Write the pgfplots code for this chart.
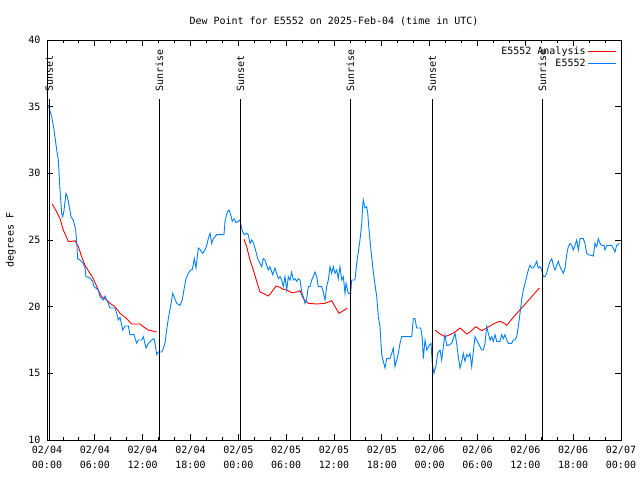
\documentclass[border=0pt]{standalone}
\usepackage{pgfplots}
\pgfplotsset{compat=1.18}
\usepackage{fontspec}
\setmainfont{DejaVu Sans Mono}
\definecolor{obsblue}{RGB}{0,128,255}
\definecolor{anared}{RGB}{255,0,0}

\begin{document}
\begin{tikzpicture}
\begin{axis}[
    width=574pt, height=400pt, scale only axis,
    xmin=0, xmax=72, ymin=10, ymax=40,
    xtick={0,6,...,72}, minor x tick num=2,
    ytick={10,15,...,40},
    xticklabels={{02/04\\[3pt]00:00},{02/04\\[3pt]06:00},{02/04\\[3pt]12:00},{02/04\\[3pt]18:00},
                 {02/05\\[3pt]00:00},{02/05\\[3pt]06:00},{02/05\\[3pt]12:00},{02/05\\[3pt]18:00},
                 {02/06\\[3pt]00:00},{02/06\\[3pt]06:00},{02/06\\[3pt]12:00},{02/06\\[3pt]18:00},
                 {02/07\\[3pt]00:00}},
    xticklabel style={align=center, font=\fontsize{10}{12}\selectfont, yshift=-3pt},
    yticklabel style={xshift=-3pt},
    /pgf/number format/assume math mode=true,
    font=\fontsize{10}{12}\selectfont,
    tick align=inside,
    major tick length=6pt, minor tick length=3pt,
    every tick/.style={black, line width=0.8pt},
    axis line style={line width=0.8pt},
    title={Dew Point for E5552 on 2025-Feb-04 (time in UTC)},
    title style={at={(0.5,1)}, anchor=south, yshift=5pt},
    ylabel={degrees F},
    ylabel style={at={(rel axis cs:0,0.5)}, anchor=center, rotate=0, yshift=36pt},
    unbounded coords=jump,
    clip mode=individual,
    legend plot pos=right,
    legend cell align=right,
    legend image code/.code={\draw[#1, line width=1.2pt] (0pt,0pt) -- (28pt,0pt);},
    legend style={at={(1,1)}, anchor=north east, draw=none, fill=none,
        xshift=-1pt, yshift=-3pt, row sep=-1pt,
        font=\fontsize{10}{12}\selectfont},
]
% analysis (three nightly segments)
\addplot[anared, line width=0.9pt] coordinates {
(0.66,27.7) (1.22,27.1) (1.63,26.6) (2.04,25.75) (2.67,24.9) (3.10,24.9)
(3.51,24.95) (3.93,24.5) (4.35,23.75) (4.77,23.1) (5.39,22.5) (5.81,22.1)
(6.43,21.25) (6.86,20.75) (7.49,20.5) (7.90,20.25) (8.53,20.0) (9.16,19.5)
(10.00,19.1) (10.62,18.7) (11.67,18.7) (12.08,18.5) (12.71,18.25) (13.76,18.1)
(20,nan)
(24.71,25.05) (25.05,24.5) (25.46,23.5) (25.88,22.75) (26.30,21.9) (26.72,21.1)
(27.13,21.0) (27.76,20.8) (28.19,21.1) (28.73,21.55) (29.23,21.45) (29.64,21.3)
(30.07,21.25) (30.69,21.05) (31.32,21.1) (31.74,21.2) (32.15,20.6) (32.78,20.25)
(33.83,20.2) (34.87,20.25) (35.71,20.45) (36.13,20.0) (36.63,19.5) (37.17,19.7)
(37.67,19.9)
(44,nan)
(48.67,18.25) (49.30,17.95) (49.92,17.75) (50.55,17.9) (51.18,18.1) (51.81,18.4)
(52.65,17.95) (53.06,18.1) (53.78,18.5) (54.53,18.2) (55.15,18.4) (55.98,18.7)
(56.74,18.9) (57.24,18.8) (57.66,18.6) (58.49,19.2) (59.54,19.9) (60.58,20.6)
(61.75,21.4)
};
\addlegendentry{E5552 Analysis}
% observations
\addplot[obsblue, line width=0.9pt] coordinates {
(0.16,35.1) (0.59,34.25) (0.88,33.25) (1.22,31.75) (1.42,31.0) (1.63,28.75)
(1.84,27.0) (1.97,26.75) (2.13,27.2) (2.38,28.5) (2.55,28.25) (2.80,27.5)
(3.01,26.75) (3.30,26.5) (3.60,25.75) (3.73,24.75) (3.85,23.6) (4.14,23.5)
(4.55,23.25) (4.77,22.9) (4.89,22.25) (5.39,22.15) (5.73,21.9) (5.90,21.5)
(6.43,21.25) (6.65,20.75) (7.06,20.5) (7.28,20.8) (7.49,20.5) (7.69,20.25)
(7.90,19.9) (8.53,19.9) (8.74,19.5) (8.94,19.0) (9.16,19.2) (9.37,18.6)
(9.50,18.25) (9.78,18.55) (10.20,18.55) (10.41,17.9) (10.91,17.9) (11.25,17.25)
(11.45,17.5) (11.88,17.5) (12.08,17.75) (12.42,16.9) (12.71,17.25) (13.13,17.5)
(13.42,17.6) (13.55,17.25) (13.76,16.4) (13.96,16.6) (14.39,16.6) (14.51,16.75)
(14.80,17.25) (15.01,18.25) (15.22,19.1) (15.52,20.1) (15.77,21.0) (15.93,20.75)
(16.27,20.25) (16.68,20.1) (16.97,20.5) (17.22,21.4) (17.44,22.1) (17.72,22.5)
(18.03,22.75) (18.23,22.8) (18.48,23.6) (18.69,22.9) (18.98,24.4) (19.19,24.3)
(19.53,24.0) (19.82,24.25) (20.03,24.6) (20.23,25.1) (20.45,25.5) (20.66,24.75)
(20.86,25.1) (21.29,25.4) (22.20,25.4) (22.33,26.4) (22.62,27.1) (22.83,27.25)
(23.04,26.9) (23.24,26.4) (23.46,26.6) (23.71,26.3) (24.00,26.4) (24.21,26.5)
(24.34,26.1) (24.55,25.6) (24.75,25.4) (25.05,25.5) (25.25,25.4) (25.46,24.75)
(25.68,25.0) (25.88,24.8) (26.09,24.4) (26.22,24.1) (26.43,23.6) (26.72,23.25)
(26.93,23.0) (27.13,23.6) (27.35,23.5) (27.56,23.1) (27.76,22.75) (27.97,23.0)
(28.31,22.4) (28.60,22.9) (28.81,22.5) (29.01,22.1) (29.23,22.25) (29.44,22.0)
(29.64,21.5) (29.85,22.25) (30.07,21.25) (30.27,22.25) (30.48,22.0) (30.69,22.6)
(30.90,22.0) (31.11,22.1) (31.32,21.9) (31.52,22.1) (31.74,22.0) (31.95,21.1)
(32.15,20.75) (32.36,20.25) (32.57,20.6) (32.78,21.5) (32.99,21.5) (33.20,22.0)
(33.40,22.25) (33.62,22.6) (33.83,22.25) (34.03,21.5) (34.46,21.5) (34.66,21.1)
(34.87,20.5) (35.08,21.5) (35.29,22.0) (35.50,23.0) (35.71,22.5) (35.91,23.0)
(36.13,22.5) (36.34,22.75) (36.54,22.1) (36.75,23.0) (36.97,22.0) (37.17,22.25)
(37.38,21.0) (37.51,21.75) (37.79,21.0) (38.09,21.0) (38.22,22.0) (38.63,22.0)
(38.85,23.25) (39.05,24.1) (39.26,25.0) (39.48,26.25) (39.60,27.6) (39.68,28.0)
(39.89,27.4) (40.10,27.5) (40.23,27.0) (40.43,25.5) (40.64,24.25) (40.86,23.0)
(41.06,22.0) (41.36,20.75) (41.56,19.25) (41.77,18.5) (41.98,16.4) (42.19,15.9)
(42.40,15.4) (42.61,16.1) (43.03,16.1) (43.24,16.5) (43.44,16.9) (43.65,15.5)
(43.87,16.0) (44.07,16.5) (44.28,17.25) (44.49,17.75) (45.75,17.75) (45.95,19.1)
(46.16,19.1) (46.37,18.4) (46.88,18.4) (47.08,17.6) (47.20,16.1) (47.42,17.5)
(47.63,16.75) (47.96,17.1) (48.17,17.25) (48.33,15.75) (48.54,15.0) (48.80,15.6)
(49.01,16.5) (49.30,16.75) (49.51,16.0) (49.71,17.0) (49.92,17.9) (50.14,17.1)
(50.34,17.1) (50.76,17.25) (51.18,18.0) (51.39,17.25) (51.59,16.25) (51.81,15.4)
(52.02,15.9) (52.22,16.5) (52.43,15.9) (52.65,16.4) (52.85,16.25) (53.06,16.5)
(53.27,15.5) (53.47,16.6) (53.69,17.75) (53.90,17.5) (54.10,17.25) (54.31,17.0)
(54.53,16.75) (54.73,16.75) (54.94,17.25) (55.15,18.5) (55.36,18.0) (55.57,17.5)
(55.78,17.75) (55.98,17.4) (56.20,17.9) (56.41,17.4) (56.82,17.4) (57.04,17.9)
(57.24,17.6) (57.45,17.9) (57.66,17.5) (57.86,17.25) (58.29,17.25) (58.49,17.5)
(58.70,17.5) (58.92,17.75) (59.12,18.5) (59.33,19.5) (59.54,20.5) (59.74,21.25)
(59.96,21.75) (60.17,22.25) (60.37,22.75) (60.58,23.1) (60.80,22.9) (61.00,22.9)
(61.21,23.1) (61.43,23.4) (61.63,22.9) (61.84,23.0) (62.05,22.75) (62.26,22.25)
(62.47,22.25) (62.68,22.5) (62.89,23.0) (63.10,23.4) (63.31,23.6) (63.51,23.1)
(63.72,22.75) (63.94,23.1) (64.14,23.4) (64.35,23.0) (64.56,22.75) (64.76,22.5)
(64.98,22.9) (65.19,23.9) (65.39,24.5) (65.60,24.75) (65.82,24.6) (66.02,24.25)
(66.23,24.6) (66.44,25.0) (66.65,24.25) (66.86,25.1) (67.27,25.1) (67.48,24.75)
(67.70,24.0) (67.90,23.9) (68.53,23.8) (68.74,24.75) (68.95,24.5) (69.15,25.1)
(69.37,24.75) (69.58,24.6) (69.87,24.6) (69.99,24.25) (70.21,24.6) (70.84,24.6)
(71.25,24.1) (71.46,24.6) (71.79,24.75)
};
\addlegendentry{E5552}
% sunrise / sunset markers
\foreach \h/\lab in {0.29/Sunset, 14.09/Sunrise, 24.27/Sunset,
                     38.07/Sunrise, 48.33/Sunset, 62.13/Sunrise}{
  \edef\tmp{\noexpand\draw[black, line width=1pt] (axis cs:\h,10) -- (axis cs:\h,35.6);
    \noexpand\node[rotate=90, anchor=west, inner sep=0pt] at (axis cs:\h,36.1) {\lab};}
  \tmp
}
\coordinate (ll) at (rel axis cs:0,0);
\end{axis}
\pgfresetboundingbox
\path (ll) ++(-47pt,-40pt) rectangle ++(640pt,480pt);
\end{tikzpicture}
\end{document}
